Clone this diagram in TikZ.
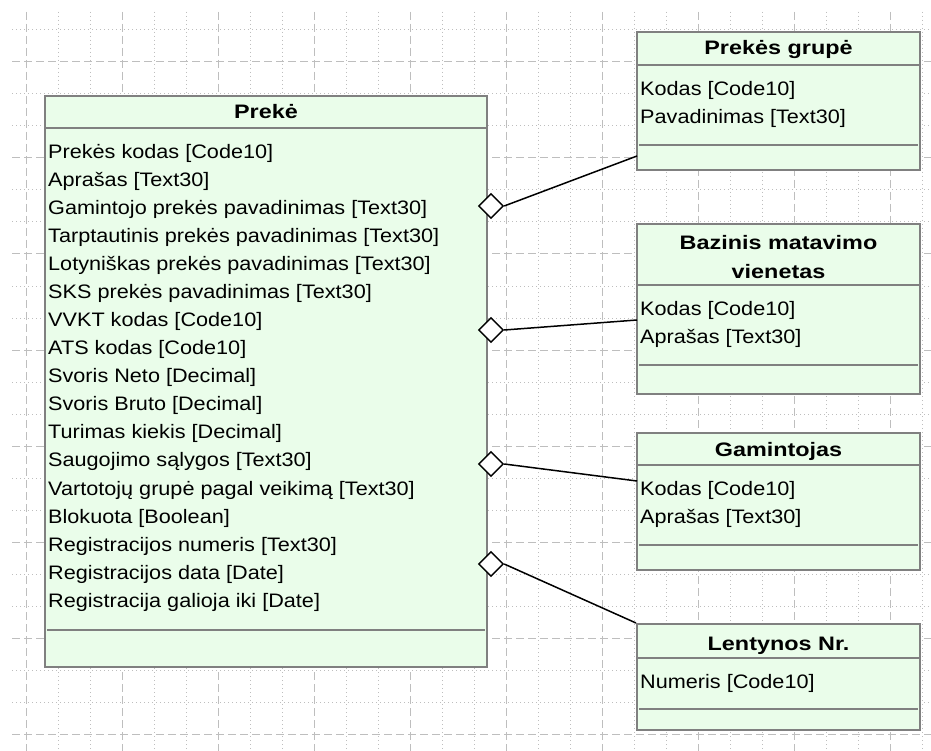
\documentclass[tikz,border=0pt]{standalone}
\usepackage{fontspec}
\setmainfont{Liberation Sans}
\newfontfamily\rowfont{Liberation Sans}[FakeStretch=1.11]
\newfontfamily\headfont{Liberation Sans}[FakeStretch=1.2]
\usetikzlibrary{shapes.geometric}

\definecolor{boxfill}{RGB}{234,253,234}
\definecolor{boxline}{RGB}{128,128,128}
\definecolor{gridline}{RGB}{190,190,190}

\tikzset{
  classbox/.style={rectangle, draw=boxline, line width=2pt, fill=boxfill, inner sep=0pt},
  sepline/.style={draw=boxline, line width=1.5pt},
  rowtext/.style={anchor=north west, inner sep=0pt, align=left,
                  font={\rowfont\fontsize{19.5}{28.06}\selectfont}},
  headtext/.style={inner sep=0pt, align=center,
                   font={\headfont\bfseries\fontsize{19.5}{28.5}\selectfont}},
  agg/.style={diamond, aspect=1, draw, fill=white, line width=1.4pt,
              minimum width=25pt, minimum height=25pt, inner sep=0pt},
  link/.style={line width=1.5pt},
  minorgrid/.style={gridline, line width=1pt, dash pattern=on 1pt off 3pt},
  majorgrid/.style={gridline, line width=1pt, dash pattern=on 8pt off 4pt}
}

\begin{document}
\begin{tikzpicture}[x=1pt, y=-1pt]

    \fill[white] (0,0) rectangle (931,751);
    \useasboundingbox (0,0) rectangle (931,751);

    % grid
    \foreach \gx in {26,122,...,890} {
      \draw[majorgrid] (\gx,12) -- (\gx,751);
      \draw[minorgrid] (\gx+32,12) -- (\gx+32,751);
      \draw[minorgrid] (\gx+64,12) -- (\gx+64,751);
    }
    \foreach \gy in {62,158,...,734} {
      \draw[majorgrid] (12,\gy) -- (931,\gy);
      \draw[minorgrid] (12,\gy-32) -- (931,\gy-32);
      \draw[minorgrid] (12,\gy+32) -- (931,\gy+32);
    }

    % Preke
    \node[classbox,
          minimum width = 442pt,
          minimum height = 571pt
          ] (preke) at (266,381.5) {};
    \draw[sepline] ([yshift=-33pt]preke.north west) -- ([yshift=-33pt]preke.north east);
    \draw[sepline] ([xshift=3pt,yshift=38pt]preke.south west) -- ([xshift=-3pt,yshift=38pt]preke.south east);
    \node[headtext, anchor=base] (prekeT) at (266,119) {Prekė};
    \node[rowtext] (prekeR) at (48,144) {Prekės kodas [Code10]\\
      Aprašas [Text30]\\
      Gamintojo prekės pavadinimas [Text30]\\
      Tarptautinis prekės pavadinimas [Text30]\\
      Lotyniškas prekės pavadinimas [Text30]\\
      SKS prekės pavadinimas [Text30]\\
      VVKT kodas [Code10]\\
      ATS kodas [Code10]\\
      Svoris Neto [Decimal]\\
      Svoris Bruto [Decimal]\\
      Turimas kiekis [Decimal]\\
      Saugojimo sąlygos [Text30]\\
      Vartotojų grupė pagal veikimą [Text30]\\
      Blokuota [Boolean]\\
      Registracijos numeris [Text30]\\
      Registracijos data [Date]\\
      Registracija galioja iki [Date]};

    % Prekes grupe
    \node[classbox,
          minimum width = 283pt,
          minimum height = 138pt
          ] (grupe) at (778.5,101) {};
    \draw[sepline] ([yshift=-34pt]grupe.north west) -- ([yshift=-34pt]grupe.north east);
    \draw[sepline] ([xshift=3pt,yshift=26pt]grupe.south west) -- ([xshift=-3pt,yshift=26pt]grupe.south east);
    \node[headtext, anchor=base] (grupeT) at (778.5,55) {Prekės grupė};
    \node[rowtext] (grupeR) at (640,81) {Kodas [Code10]\\
      Pavadinimas [Text30]};

    % Bazinis matavimo vienetas
    \node[classbox,
          minimum width = 283pt,
          minimum height = 170pt
          ] (vienetas) at (778.5,309) {};
    \draw[sepline] ([yshift=-62pt]vienetas.north west) -- ([yshift=-62pt]vienetas.north east);
    \draw[sepline] ([xshift=3pt,yshift=30pt]vienetas.south west) -- ([xshift=-3pt,yshift=30pt]vienetas.south east);
    \node[headtext] (vienetasT) at (778.5,257) {Bazinis matavimo\\ vienetas};
    \node[rowtext] (vienetasR) at (640,301) {Kodas [Code10]\\
      Aprašas [Text30]};

    % Gamintojas
    \node[classbox,
          minimum width = 283pt,
          minimum height = 137pt
          ] (gamint) at (778.5,501.5) {};
    \draw[sepline] ([yshift=-33pt]gamint.north west) -- ([yshift=-33pt]gamint.north east);
    \draw[sepline] ([xshift=3pt,yshift=26pt]gamint.south west) -- ([xshift=-3pt,yshift=26pt]gamint.south east);
    \node[headtext, anchor=base] (gamintT) at (778.5,456) {Gamintojas};
    \node[rowtext] (gamintR) at (640,481) {Kodas [Code10]\\
      Aprašas [Text30]};

    % Lentynos Nr.
    \node[classbox,
          minimum width = 283pt,
          minimum height = 106pt
          ] (lentyna) at (778.5,677) {};
    \draw[sepline] ([yshift=-35pt]lentyna.north west) -- ([yshift=-35pt]lentyna.north east);
    \draw[sepline] ([xshift=3pt,yshift=22pt]lentyna.south west) -- ([xshift=-3pt,yshift=22pt]lentyna.south east);
    \node[headtext, anchor=base] (lentynaT) at (778.5,650) {Lentynos Nr.};
    \node[rowtext] (lentynaR) at (640,674) {Numeris [Code10]};

    % aggregation ends
    \node[agg] (d1) at (491,206) {};
    \node[agg] (d2) at (491,330) {};
    \node[agg] (d3) at (491,464) {};
    \node[agg] (d4) at (491,564) {};

    \coordinate (c1) at (637,156);
    \coordinate (c2) at (637,320);
    \coordinate (c3) at (637,481);
    \coordinate (c4) at (636,623);

    \path[link]
    (d1.east) edge (c1)
    (d2.east) edge (c2)
    (d3.east) edge (c3)
    (d4.east) edge (c4);

\end{tikzpicture}
\end{document}
